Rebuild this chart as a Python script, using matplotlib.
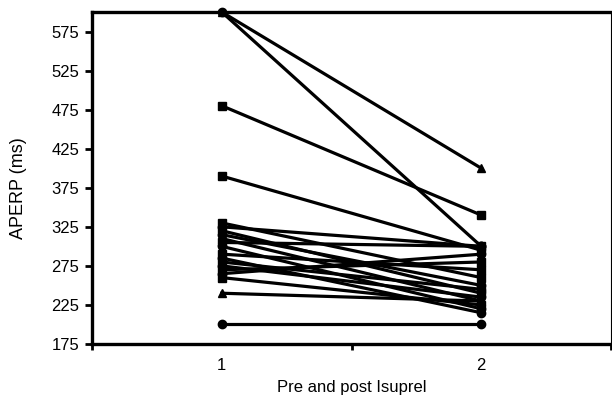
import numpy as np
import matplotlib.pyplot as plt

plt.rcParams['font.family'] = ['Liberation Sans', 'DejaVu Sans']

# APERP values before (1) and after (2) Isuprel, one pair per patient
pre = [600, 600, 480, 390, 330, 325, 320, 315, 310, 305, 300, 290,
       285, 280, 275, 270, 265, 260, 240, 200]
post = [400, 300, 340, 295, 260, 300, 240, 250, 230, 300, 220, 270,
        215, 245, 235, 280, 290, 225, 230, 200]
groups = [1, 2]
group_labels = ['1', '2']

markers = ['^', 'o', 's', 's', 's', 'o', 's', 'o', '^', 's', 'o', 's',
           'o', 's', 'o', 's', 'o', 's', '^', 'o']

fig = plt.figure(figsize=(6.12, 3.97), dpi=100)
ax = fig.add_axes([92 / 612, 1 - 344 / 397, (611 - 92) / 612, (344 - 12) / 397])

for a, b, m in zip(pre, post, markers):
    ax.plot(groups, [a, b], color='black', lw=2.3, marker=m, ms=6,
            clip_on=False, zorder=3)

ax.set_xlim(0.5, 2.5)
ax.set_ylim(175, 600)
ax.set_yticks(np.arange(175, 600, 50))
ax.set_xticks([0.5, 1.5, 2.5])
ax.set_xticklabels([])
ax.set_xticks(groups, minor=True)
ax.set_xticklabels(group_labels, minor=True)
ax.tick_params(axis='x', which='minor', length=0, pad=10, labelsize=12)
ax.tick_params(axis='x', which='major', length=4, width=2, direction='out')
ax.tick_params(axis='y', length=5, width=2, direction='out', labelsize=12, pad=4)

for side in ['left', 'bottom', 'top']:
    ax.spines[side].set_linewidth(2.4)
ax.spines['right'].set_linewidth(0.8)

ax.set_xlabel('Pre and post Isuprel', fontsize=12, labelpad=5)
ax.set_ylabel('APERP (ms)', fontsize=13, labelpad=6)
ax.yaxis.set_label_coords(-0.125, 0.47)

fig.savefig('out.png', dpi=100)
